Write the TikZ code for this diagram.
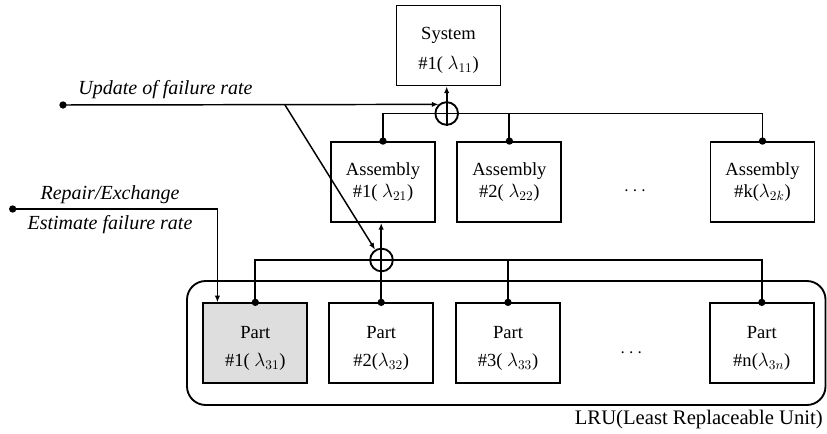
\documentclass[tikz,border=0pt]{standalone}
\usepackage{amsmath}
\usepackage{xcolor}
\usepackage{fontspec}
\setmainfont{Liberation Serif}
\usetikzlibrary{arrows.meta}

\begin{document}
\begin{tikzpicture}[x=0.75pt,y=0.75pt,yscale=-1,xscale=1,
  unitbox/.style={draw,line width=1.4pt,minimum width=78pt,minimum height=60pt,inner sep=0pt,align=center,font=\fontsize{13.9}{16.5}\selectfont},
  sumnode/.style={draw,circle,line width=1.4pt,minimum size=17pt,inner sep=0pt},
  bus/.style={line width=1.4pt},
  thin/.style={line width=1.1pt},
  tip/.style={-{Latex[length=5pt,width=4pt]}},
  joint/.style={circle,fill,inner sep=0pt,minimum size=5.5pt},
  tag/.style={font=\fontsize{15}{18}\selectfont\itshape,inner sep=0.75pt}]

\useasboundingbox (0,0) rectangle (827,434);

\draw [line width=1.4pt,rounded corners=14pt] (187,281) rectangle (825.5,405);

\node [unitbox] (sys) at (448.5,45.5) {\rule{0pt}{17pt}System\\[6pt]\#1( $\lambda_{11}$)};

\node [unitbox] (asm1) at (383,182) {Assembly\\\#1( $\lambda_{21}$)};

\node [unitbox] (asm2) at (509.4,182) {Assembly\\\#2( $\lambda_{22}$)};

\node [unitbox] (asmk) at (762.5,182) {Assembly\\\#k($\lambda_{2k}$)};

\node [unitbox,fill=black!13] (part1) at (255.3,343.3) {\rule{0pt}{17pt}Part\\[5pt]\#1( $\lambda_{31}$)};

\node [unitbox] (part2) at (381.2,343.3) {\rule{0pt}{17pt}Part\\[5pt]\#2($\lambda_{32}$)};

\node [unitbox] (part3) at (508,343.3) {\rule{0pt}{17pt}Part\\[5pt]\#3( $\lambda_{33}$)};

\node [unitbox] (partn) at (761.8,343.3) {\rule{0pt}{17pt}Part\\[5pt]\#n($\lambda_{3n}$)};

\node [font=\fontsize{13.7}{16.5}\selectfont] (adots) at (636.7,191) {$\cdots$};

\node [font=\fontsize{13.7}{16.5}\selectfont] (pdots) at (633,353) {$\cdots$};

\node [sumnode] (sumA) at (446.7,113.5) {};

\node [sumnode] (sumP) at (381.5,260) {};

\coordinate (upd) at (63,105);

\coordinate (tap) at (285,105);

\coordinate (rep) at (12.7,209);



\draw [bus] (asm1.north) |- (sumA.center) -| (asmk.north);

\draw [bus] (asm2.north) -- (asm2.north |- sumA.center);

\draw [bus,tip] (sumA.south) -- (sumA.south |- sys.south);

\draw [bus] (part1.north) |- (sumP.center) -| (partn.north);

\draw [bus] (part3.north) -- (part3.north |- sumP.center);

\draw [bus,tip] (part2.north) -- (part2.north |- asm1.south);

\draw [thin,tip] (upd) -- (sumA.132);

\draw [thin,tip] (tap) -- (sumP);

\draw [thin,tip] (rep) -| ([xshift=11.3pt]part1.north west);

\foreach \p in {asm1,asm2,asmk,part1,part2,part3,partn}
  \node [joint] at (\p.north) {};

\node [joint] at (upd) {};

\node [joint] at (rep) {};



\node [tag] (updlbl) at (165.5,90) {Update of failure rate};

\node [tag] (replbl) at (110,195) {Repair/Exchange};

\node [tag] (estlbl) at (110,225) {Estimate failure rate};

\node [anchor=east,inner sep=0pt,font=\fontsize{15.5}{18}\selectfont] (lrulbl) at (823,420) {LRU(Least Replaceable Unit)};

\end{tikzpicture}
\end{document}
